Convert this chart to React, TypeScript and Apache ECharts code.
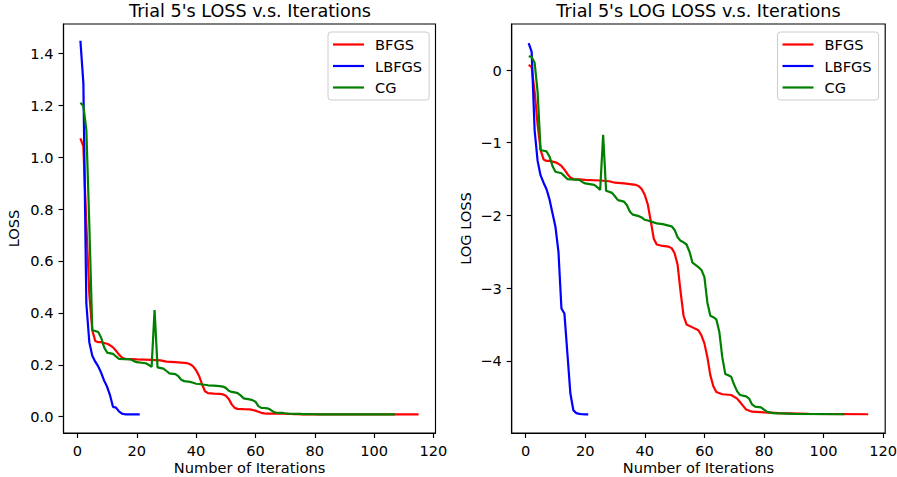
import React, { useEffect, useRef } from "react";
import * as echarts from "echarts";

const xTicks = [0, 20, 40, 60, 80, 100, 120];
const lossTicks = [0, 0.2, 0.4, 0.6, 0.8, 1.0, 1.2, 1.4];
const logTicks = [-4, -3, -2, -1, 0];

const lbfgsIter = [1, 2, 3, 4, 5, 6, 7, 8, 9, 10, 11, 12, 13, 14, 15, 16, 17, 18, 19, 20, 21];
const lbfgsLoss = [1.448, 1.284, 0.436, 0.287, 0.235, 0.212, 0.194, 0.169, 0.139, 0.115, 0.082, 0.0376, 0.0351, 0.0202, 0.0117, 0.0093, 0.0089, 0.0088, 0.00878, 0.00877, 0.00876];
const lbfgsLog = [0.37, 0.25, -0.83, -1.25, -1.45, -1.55, -1.64, -1.78, -1.97, -2.16, -2.5, -3.28, -3.35, -3.9, -4.45, -4.68, -4.72, -4.73, -4.735, -4.736, -4.737];

const bfgsIter = [1, 2, 3, 4, 5, 6, 7, 8, 9, 10, 11, 12, 13, 14, 15, 16, 18, 20, 25, 28, 30, 33, 37, 38, 39, 40, 41, 42, 43, 44, 46, 48, 49, 50, 51, 52, 53, 54, 56, 58, 59, 60, 61, 62, 63, 64, 66, 69, 71, 72, 73, 74, 76, 80, 85, 95, 115];
const bfgsLoss = [1.0725, 1.041, 0.741, 0.472, 0.333, 0.292, 0.287, 0.287, 0.284, 0.281, 0.275, 0.267, 0.254, 0.239, 0.228, 0.223, 0.222, 0.221, 0.219, 0.217, 0.212, 0.21, 0.206, 0.202, 0.194, 0.179, 0.157, 0.125, 0.098, 0.0907, 0.0889, 0.088, 0.0863, 0.0805, 0.0686, 0.0474, 0.034, 0.0302, 0.029, 0.0279, 0.026, 0.0233, 0.0193, 0.015, 0.0129, 0.0119, 0.0116, 0.0114, 0.0109, 0.0104, 0.0099, 0.0094, 0.0091, 0.009, 0.0089, 0.0088, 0.0088];
const bfgsLog = [0.07, 0.04, -0.3, -0.75, -1.1, -1.23, -1.25, -1.25, -1.26, -1.27, -1.29, -1.32, -1.37, -1.43, -1.48, -1.5, -1.505, -1.51, -1.52, -1.53, -1.55, -1.56, -1.58, -1.6, -1.64, -1.72, -1.85, -2.08, -2.32, -2.4, -2.42, -2.43, -2.45, -2.52, -2.68, -3.05, -3.38, -3.5, -3.54, -3.58, -3.65, -3.76, -3.95, -4.2, -4.35, -4.43, -4.46, -4.47, -4.52, -4.57, -4.62, -4.67, -4.7, -4.71, -4.72, -4.73, -4.735];

const cgIter = [1, 2, 3, 4, 5, 6, 7, 8, 9, 10, 12, 13, 14, 18, 19, 20, 23, 24, 25, 26, 27, 29, 30, 31, 33, 34, 35, 36, 38, 39, 40, 41, 44, 46, 48, 49, 50, 51, 52, 53, 54, 55, 56, 57, 58, 59, 60, 61, 62, 63, 64, 65, 66, 67, 68, 69, 70, 71, 72, 74, 75, 76, 77, 79, 80, 81, 83, 90, 107];
const cgLoss = [1.209, 1.197, 1.105, 0.741, 0.333, 0.33, 0.326, 0.304, 0.267, 0.247, 0.242, 0.232, 0.223, 0.221, 0.214, 0.21, 0.206, 0.2, 0.192, 0.411, 0.19, 0.185, 0.176, 0.167, 0.164, 0.156, 0.142, 0.137, 0.134, 0.131, 0.127, 0.126, 0.121, 0.12, 0.118, 0.116, 0.111, 0.1, 0.0954, 0.0935, 0.0907, 0.0821, 0.0707, 0.0686, 0.0665, 0.0639, 0.0578, 0.0408, 0.034, 0.0334, 0.0324, 0.0273, 0.0193, 0.0153, 0.015, 0.0147, 0.0132, 0.012, 0.0114, 0.0112, 0.0109, 0.0101, 0.0098, 0.0097, 0.0094, 0.0091, 0.0089, 0.0088, 0.0088];
const cgLog = [0.19, 0.18, 0.1, -0.3, -1.1, -1.11, -1.12, -1.19, -1.32, -1.4, -1.42, -1.46, -1.5, -1.51, -1.54, -1.56, -1.58, -1.61, -1.65, -0.89, -1.66, -1.69, -1.74, -1.79, -1.81, -1.86, -1.95, -1.99, -2.01, -2.03, -2.06, -2.07, -2.11, -2.12, -2.14, -2.15, -2.2, -2.3, -2.35, -2.37, -2.4, -2.5, -2.65, -2.68, -2.71, -2.75, -2.85, -3.2, -3.38, -3.4, -3.43, -3.6, -3.95, -4.18, -4.2, -4.22, -4.33, -4.42, -4.47, -4.49, -4.52, -4.6, -4.63, -4.64, -4.67, -4.7, -4.72, -4.73, -4.735];

const FONT = "DejaVu Sans";
const pair = (xs: number[], ys: number[]) => xs.map((x, i) => [x, ys[i]]);

export default function App() {
  const ref = useRef<HTMLDivElement>(null);
  useEffect(() => {
    if (!ref.current) return;
    const chart = echarts.init(ref.current, undefined, { renderer: "svg" });
    const textBase = { color: "#000", fontFamily: FONT, fontSize: 14.6 };
    const spine = { color: "#000", width: 1.15 };
    const mkX = (i: number) => ({
      type: "value",
      gridIndex: i,
      min: -4.7,
      max: 120.7,
      name: "Number of Iterations",
      nameLocation: "middle",
      nameGap: 27.5,
      nameMoveOverlap: false,
      nameTextStyle: { ...textBase, lineHeight: 14.6 },
      axisLine: { show: true, onZero: false, lineStyle: spine },
      axisTick: { show: true, length: 5, customValues: xTicks, lineStyle: spine },
      axisLabel: { customValues: xTicks, margin: 10, ...textBase, lineHeight: 15 },
      splitLine: { show: false },
    });
    const legendBase = {
      orient: "vertical",
      top: 32,
      icon: "rect",
      itemWidth: 31,
      itemHeight: 2.2,
      itemGap: 6.5,
      padding: [5, 7, 5, 5],
      backgroundColor: "rgba(255,255,255,0.8)",
      borderColor: "#cccccc",
      borderWidth: 1,
      borderRadius: 3,
      selectedMode: false,
      textStyle: { ...textBase, padding: [0, 0, 0, 6] },
      data: ["BFGS", "LBFGS", "CG"],
    };
    const line = (name: string, color: string, data: number[][], idx: number) => ({
      name,
      type: "line",
      xAxisIndex: idx,
      yAxisIndex: idx,
      data,
      symbol: "none",
      showSymbol: false,
      color,
      lineStyle: { color, width: 2.2 },
      itemStyle: { color },
    });
    const titleStyle = { color: "#000", fontFamily: FONT, fontSize: 17.6, fontWeight: "normal" };
    chart.setOption({
      animation: false,
      backgroundColor: "#ffffff",
      title: [
        { text: "Trial 5's LOSS v.s. Iterations", left: 250, top: 2, textAlign: "center", padding: 0, textStyle: titleStyle },
        { text: "Trial 5's LOG LOSS v.s. Iterations", left: 698.5, top: 2, textAlign: "center", padding: 0, textStyle: titleStyle },
      ],
      legend: [
        { ...legendBase, left: 328 },
        { ...legendBase, left: 777.5 },
      ],
      grid: [
        { left: 63.5, top: 24, width: 372, height: 409, show: true, borderColor: "#000", borderWidth: 1.15, containLabel: false, outerBoundsMode: "none" },
        { left: 511.7, top: 24, width: 373.5, height: 409, show: true, borderColor: "#000", borderWidth: 1.15, containLabel: false, outerBoundsMode: "none" },
      ],
      xAxis: [mkX(0), mkX(1)],
      yAxis: [
        {
          type: "value",
          gridIndex: 0,
          min: -0.0628,
          max: 1.5127,
          name: "LOSS",
          nameLocation: "middle",
          nameGap: 43,
          nameTextStyle: { ...textBase },
          axisLine: { show: true, onZero: false, lineStyle: spine },
          axisTick: { show: true, length: 5, customValues: lossTicks, lineStyle: spine },
          axisLabel: { customValues: lossTicks, margin: 10, ...textBase, formatter: (v: number) => v.toFixed(1) },
          splitLine: { show: false },
        },
        {
          type: "value",
          gridIndex: 1,
          min: -4.993,
          max: 0.633,
          name: "LOG LOSS",
          nameLocation: "middle",
          nameGap: 39,
          nameTextStyle: { ...textBase },
          axisLine: { show: true, onZero: false, lineStyle: spine },
          axisTick: { show: true, length: 5, customValues: logTicks, lineStyle: spine },
          axisLabel: {
            customValues: logTicks,
            margin: 10,
            ...textBase,
            formatter: (v: number) => String(Math.round(v)).replace("-", "\u2212"),
          },
          splitLine: { show: false },
        },
      ],
      series: [
        line("BFGS", "#ff0000", pair(bfgsIter, bfgsLoss), 0),
        line("LBFGS", "#0000ff", pair(lbfgsIter, lbfgsLoss), 0),
        line("CG", "#008000", pair(cgIter, cgLoss), 0),
        line("BFGS", "#ff0000", pair(bfgsIter, bfgsLog), 1),
        line("LBFGS", "#0000ff", pair(lbfgsIter, lbfgsLog), 1),
        line("CG", "#008000", pair(cgIter, cgLog), 1),
      ],
    });
    return () => chart.dispose();
  }, []);
  return (
    <div
      ref={ref}
      style={{ position: "fixed", left: 0, top: 0, width: 897, height: 477, background: "#fff" }}
    />
  );
}
